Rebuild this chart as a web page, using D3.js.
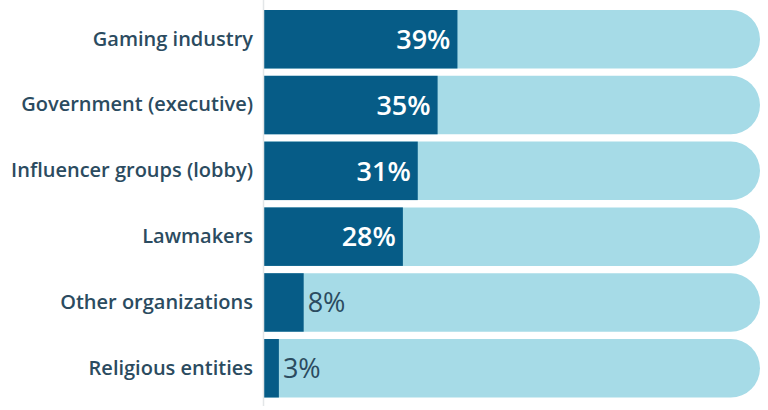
<!DOCTYPE html>
<html>
<head>
<meta charset="utf-8">
<script src="https://cdn.jsdelivr.net/npm/d3@7"></script>
<style>
  html, body { margin: 0; padding: 0; background: #ffffff; }
  svg { display: block; }
</style>
</head>
<body>
<svg id="chart" width="768" height="410"></svg>
<script>
const categories = ["Gaming industry", "Government (executive)", "Influencer groups (lobby)", "Lawmakers", "Other organizations", "Religious entities"];
const values = [39, 35, 31, 28, 8, 3];
const valueLabels = ["39%", "35%", "31%", "28%", "8%", "3%"];
const maxValue = 100;

const W = 768, H = 410;
const margin = { top: 10, right: 8, bottom: 12.5, left: 264 };
const svg = d3.select("#chart");

const x = d3.scaleLinear().domain([0, maxValue]).range([margin.left, W - margin.right]);
const y = d3.scaleBand().domain(categories).range([margin.top, H - margin.bottom]).paddingInner(0.111).paddingOuter(0);

const darkColor = "#065c87";
const lightColor = "#a6dbe7";
const textColor = "#2b4b60";
const bh = y.bandwidth();
const r = bh / 2;

// background (100%) bars with rounded right end
function bgPath(d) {
  const x0 = x(0), x1 = x(maxValue), y0 = y(d), y1 = y0 + bh;
  return `M${x0},${y0} H${x1 - r} A${r},${r} 0 0 1 ${x1 - r},${y1} H${x0} Z`;
}
svg.append("g").selectAll("path").data(categories).join("path")
  .attr("d", bgPath).attr("fill", lightColor);

// value bars
svg.append("g").selectAll("rect").data(categories).join("rect")
  .attr("x", x(0)).attr("y", d => y(d))
  .attr("width", (d, i) => x(values[i]) - x(0))
  .attr("height", bh).attr("fill", darkColor);

// axis line
svg.append("line").attr("x1", margin.left - 0.5).attr("x2", margin.left - 0.5)
  .attr("y1", 0).attr("y2", H - 4).attr("stroke", "#e3e6e8").attr("stroke-width", 1.5);

// category labels
const yAxis = d3.axisLeft(y).tickSize(0).tickPadding(11);
const ga = svg.append("g").attr("transform", `translate(${margin.left},0)`).call(yAxis);
ga.select(".domain").remove();
ga.selectAll("text")
  .attr("font-family", "'Open Sans', sans-serif").attr("font-size", 20).attr("font-weight", 600)
  .attr("fill", textColor);

// value labels
const inside = v => v >= 20;
svg.append("g").selectAll("text").data(categories).join("text")
  .attr("x", (d, i) => inside(values[i]) ? x(values[i]) - 7 : x(values[i]) + 4)
  .attr("y", d => y(d) + bh / 2)
  .attr("dy", "0.36em")
  .attr("text-anchor", (d, i) => inside(values[i]) ? "end" : "start")
  .attr("font-family", "'Open Sans', sans-serif").attr("font-size", 27)
  .attr("font-weight", (d, i) => inside(values[i]) ? 600 : 400)
  .attr("fill", (d, i) => inside(values[i]) ? "#ffffff" : textColor)
  .text((d, i) => valueLabels[i]);
</script>
</body>
</html>
